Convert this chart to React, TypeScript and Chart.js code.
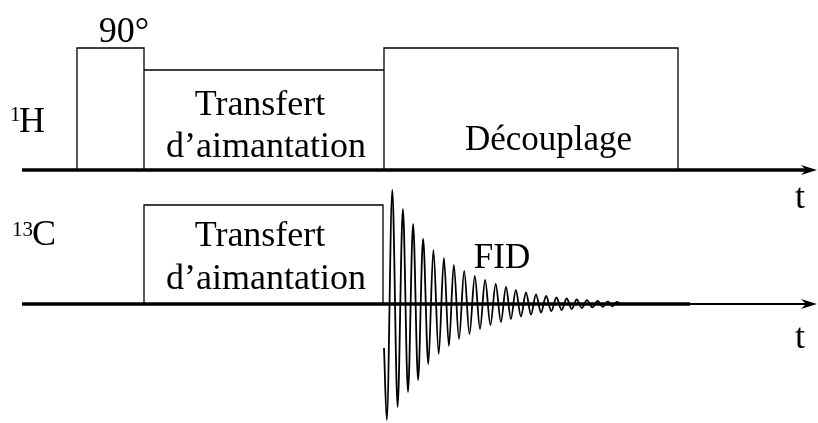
import React, { useEffect, useRef } from "react";
import { Chart, registerables } from "chart.js";

Chart.register(...registerables);

// ---- data (time axis in arbitrary units, amplitudes relative to each channel baseline) ----
const H_PULSE_START = [77, 144, 384];
const H_PULSE_END = [144, 384, 678];
const H_PULSE_HEIGHT = [122, 100, 122];

const C_PULSE_START = [144];
const C_PULSE_END = [383];
const C_PULSE_HEIGHT = [99];

const AXIS_START = 22;
const AXIS_END = 817;
const C_AXIS_THICK_END = 690;

const FID_TIME = [
  384, 386.8, 392.3, 397.6, 402.9, 408, 413.1, 418.1, 423.1, 428.3, 433.4, 438.7,
  443.9, 448.9, 453.8, 459, 464.2, 469.5, 474.8, 480, 485.1, 490.4, 495.7, 500.9,
  506, 510.9, 515.8, 520.9, 526, 531, 536, 541, 546.1, 551.3, 556.5, 561.6,
  566.7, 571.7, 576.7, 581.8, 586.9, 592.3, 597.7, 602.8, 607.8, 612.3, 616.7, 620.5,
];
const FID_SIGNAL = [
  -44, -116, 114, -103, 95, -88, 80, -76, 65, -60, 54, -50,
  46, -42, 39, -35, 33, -30, 28, -25, 24, -21, 20, -18,
  17, -15, 14, -12.5, 11.5, -10.5, 9.5, -8.5, 8, -7, 6.5, -6,
  5.5, -5, 4.5, -4, 3.8, -3.4, 3.2, -2.9, 2.7, -2.4, 2.2, 0,
];

const LABEL_TEXT = ["90°", "Transfert", "d’aimantation", "Découplage", "H", "1", "t",
  "C", "13", "Transfert", "d’aimantation", "FID", "t"];
const LABEL_X = [124, 260, 266, 548.5, 19, 10, 800, 32, 12, 260, 266, 502, 800];
const LABEL_Y = [128, 55, 13, 20, 38, 49, -38, 59, 68, 58, 15, 36, -44];
const LABEL_AXIS = ["yH", "yH", "yH", "yH", "yH", "yH", "yH", "yC", "yC", "yC", "yC", "yC", "yC"];
const LABEL_SIZE = [36, 36, 36, 35, 36, 21, 36, 36, 21, 36, 36, 35, 36];
const LABEL_ALIGN = ["center", "center", "center", "center", "left", "left", "center",
  "left", "left", "center", "center", "center", "center"];

function pulsePath(starts: number[], ends: number[], heights: number[]) {
  const pts: { x: number; y: number }[] = [];
  starts.forEach((s, i) => {
    pts.push({ x: s, y: 0 }, { x: s, y: heights[i] }, { x: ends[i], y: heights[i] }, { x: ends[i], y: 0 });
  });
  return pts;
}

const FONT = "'Liberation Serif', 'Times New Roman', serif";

const overlayPlugin = {
  id: "overlay",
  afterDatasetsDraw(chart: any) {
    const ctx = chart.ctx;
    const xs = chart.scales.x;
    ctx.save();
    ctx.fillStyle = "#000";
    ["yH", "yC"].forEach((ax) => {
      const y = chart.scales[ax].getPixelForValue(0);
      const tip = xs.getPixelForValue(AXIS_END);
      ctx.beginPath();
      ctx.moveTo(tip, y);
      ctx.lineTo(tip - 16, y - 5);
      ctx.lineTo(tip - 11, y);
      ctx.lineTo(tip - 16, y + 5);
      ctx.closePath();
      ctx.fill();
    });
    ctx.textBaseline = "alphabetic";
    LABEL_TEXT.forEach((t, i) => {
      ctx.font = `${LABEL_SIZE[i]}px ${FONT}`;
      ctx.textAlign = LABEL_ALIGN[i];
      ctx.fillText(t, xs.getPixelForValue(LABEL_X[i]), chart.scales[LABEL_AXIS[i]].getPixelForValue(LABEL_Y[i]));
    });
    ctx.restore();
  },
};

export default function App() {
  const ref = useRef<HTMLCanvasElement | null>(null);
  useEffect(() => {
    if (!ref.current) return;
    const black = "#000";
    const chart = new Chart(ref.current, {
      type: "line",
      data: {
        datasets: [
          {
            data: [{ x: AXIS_START, y: 0 }, { x: AXIS_END - 11, y: 0 }],
            yAxisID: "yH", borderColor: black, borderWidth: 3.3,
          },
          {
            data: [{ x: AXIS_START, y: 0 }, { x: C_AXIS_THICK_END, y: 0 }],
            yAxisID: "yC", borderColor: black, borderWidth: 3.3,
          },
          {
            data: [{ x: C_AXIS_THICK_END, y: 0 }, { x: AXIS_END - 11, y: 0 }],
            yAxisID: "yC", borderColor: black, borderWidth: 2.2,
          },
          {
            data: pulsePath(H_PULSE_START, H_PULSE_END, H_PULSE_HEIGHT),
            yAxisID: "yH", borderColor: black, borderWidth: 1.3,
          },
          {
            data: pulsePath(C_PULSE_START, C_PULSE_END, C_PULSE_HEIGHT),
            yAxisID: "yC", borderColor: black, borderWidth: 1.3,
          },
          {
            data: FID_TIME.map((t, i) => ({ x: t, y: FID_SIGNAL[i] })),
            yAxisID: "yC", borderColor: black, borderWidth: 1.8,
            cubicInterpolationMode: "monotone",
          },
        ],
      },
      options: {
        animation: false,
        responsive: false,
        maintainAspectRatio: false,
        layout: { padding: 0 },
        elements: { point: { radius: 0, hoverRadius: 0 }, line: { tension: 0, fill: false } },
        scales: {
          x: { type: "linear", min: 0, max: 818, display: false },
          yH: { type: "linear", min: -253, max: 170, display: false },
          yC: { type: "linear", min: -119, max: 304, display: false },
        },
        plugins: { legend: { display: false }, tooltip: { enabled: false } },
        events: [],
      },
      plugins: [overlayPlugin],
    });
    return () => chart.destroy();
  }, []);
  return (
    <div style={{ position: "fixed", left: 0, top: 0, width: 818, height: 423, background: "#fff" }}>
      <canvas ref={ref} width={818} height={423} style={{ display: "block" }} />
    </div>
  );
}
